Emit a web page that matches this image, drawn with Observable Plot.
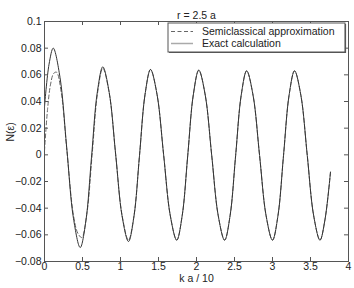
<!DOCTYPE html>
<html>
<head>
<meta charset="utf-8">
<script src="https://cdn.jsdelivr.net/npm/d3@7"></script>
<script src="https://cdn.jsdelivr.net/npm/@observablehq/plot@0.6"></script>
<style>
  html, body { margin: 0; padding: 0; background: #fff; }
  #chart svg { display: block; }
</style>
</head>
<body>
<div id="chart"></div>
<script>
const title = "r = 2.5 a";
const xLabel = "k a / 10";
const yLabel = "N(ε)";
const seriesNames = ["Semiclassical approximation", "Exact calculation"];
const xTicks = [0, 0.5, 1, 1.5, 2, 2.5, 3, 3.5, 4];
const yTicks = [-0.08, -0.06, -0.04, -0.02, 0, 0.02, 0.04, 0.06, 0.08, 0.1];

const exactX = [0, 0.06, 0.115, 0.204, 0.2925, 0.381, 0.47, 0.544, 0.6185, 0.693, 0.767, 0.8515, 0.936, 1.0205, 1.105, 1.1775, 1.25, 1.3225, 1.395, 1.481, 1.5675, 1.654, 1.74, 1.8125, 1.885, 1.9575, 2.03, 2.115, 2.2, 2.285, 2.37, 2.4425, 2.515, 2.5875, 2.66, 2.745, 2.83, 2.915, 3.0, 3.0725, 3.145, 3.2175, 3.29, 3.374, 3.4575, 3.541, 3.625, 3.69, 3.763];
const exactY = [0.036, 0.068, 0.080, 0.0581, 0.0053, -0.0476, -0.0695, -0.0497, -0.0018, 0.0462, 0.066, 0.0468, 0.0005, -0.0458, -0.065, -0.0461, -0.0005, 0.0451, 0.064, 0.0452, 0, -0.0452, -0.064, -0.0453, -0.0003, 0.0448, 0.0635, 0.0448, -0.0003, -0.0453, -0.064, -0.0454, -0.0005, 0.0444, 0.063, 0.0444, -0.0005, -0.0454, -0.064, -0.0454, -0.0005, 0.0444, 0.063, 0.0444, -0.0005, -0.0454, -0.064, -0.0488, -0.013];

const semiX = [0, 0.04, 0.08, 0.12, 0.158, 0.22, 0.295, 0.38, 0.44, 0.49, 0.559, 0.6285, 0.698, 0.767, 0.8515, 0.936, 1.0205, 1.105, 1.1775, 1.25, 1.3225, 1.395, 1.481, 1.5675, 1.654, 1.74, 1.8125, 1.885, 1.9575, 2.03, 2.115, 2.2, 2.285, 2.37, 2.4425, 2.515, 2.5875, 2.66, 2.745, 2.83, 2.915, 3.0, 3.0725, 3.145, 3.2175, 3.29, 3.374, 3.4575, 3.541, 3.625, 3.69, 3.763];
const semiY = [0.003, 0.034, 0.053, 0.061, 0.062, 0.047, 0.003, -0.045, -0.059, -0.062, -0.0434, 0.0015, 0.0464, 0.065, 0.0463, 0.0005, -0.0453, -0.064, -0.0456, -0.0005, 0.0451, 0.064, 0.0452, 0, -0.0452, -0.064, -0.0453, -0.0003, 0.0448, 0.0635, 0.0448, -0.0003, -0.0453, -0.064, -0.0454, -0.0005, 0.0444, 0.063, 0.0444, -0.0005, -0.0454, -0.064, -0.0454, -0.0005, 0.0444, 0.063, 0.0444, -0.0005, -0.0454, -0.064, -0.0488, -0.013];

const exact = exactX.map((x, i) => ({x, y: exactY[i]}));
const semi = semiX.map((x, i) => ({x, y: semiY[i]}));

const W = 354, H = 288;
const mL = 44, mR = 6, mT = 21, mB = 27;
const fw = W - mL - mR, fh = H - mT - mB;
const tl = 4;
const axisColor = "#555";
const fmt = d => d === 0 ? "0" : d3.format("~g")(d);

const chart = Plot.plot({
  width: W, height: H,
  marginLeft: mL, marginRight: mR, marginTop: mT, marginBottom: mB,
  style: {fontFamily: "'Liberation Sans', Arial, sans-serif", fontSize: "10.5px", background: "#fff", color: "#222"},
  x: {domain: [0, 4]},
  y: {domain: [-0.08, 0.1]},
  marks: [
    Plot.line(semi, {x: "x", y: "y", stroke: "#666", strokeWidth: 1, strokeDasharray: "4,2.5", curve: "catmull-rom"}),
    Plot.line(exact, {x: "x", y: "y", stroke: "#333", strokeWidth: 1, curve: "catmull-rom"}),
    Plot.frame({stroke: axisColor}),
    Plot.tickX(xTicks, {x: d => d, insetTop: fh - tl, stroke: axisColor}),
    Plot.tickX(xTicks, {x: d => d, insetBottom: fh - tl, stroke: axisColor}),
    Plot.tickY(yTicks, {y: d => d, insetRight: fw - tl, stroke: axisColor}),
    Plot.tickY(yTicks, {y: d => d, insetLeft: fw - tl, stroke: axisColor}),
    Plot.axisX(xTicks, {tickSize: 0, tickPadding: 1, tickFormat: fmt, label: null}),
    Plot.axisY(yTicks, {tickSize: 0, tickPadding: 3, tickFormat: fmt, label: null}),
    Plot.text([title], {frameAnchor: "top", dy: -10, fontSize: 10.5}),
    Plot.text([xLabel], {frameAnchor: "bottom", dy: 20, fontSize: 10.5}),
    Plot.text([yLabel], {frameAnchor: "left", dx: -34, rotate: -90, fontSize: 10.5})
  ]
});

document.getElementById("chart").appendChild(chart);

// legend
const svg = d3.select(chart);
const lg = svg.append("g")
  .attr("font-family", "'Liberation Sans', Arial, sans-serif")
  .attr("font-size", 10.5)
  .attr("text-anchor", "start");
const lx = 168, ly = 23, lw = 177, lh = 29;
lg.append("rect").attr("x", lx).attr("y", ly).attr("width", lw).attr("height", lh)
  .attr("fill", "#fff").attr("stroke", "#555");
lg.append("path").attr("d", `M${lx + 1},${ly + lh + 0.5}H${lx + lw + 0.5}V${ly + 1}`)
  .attr("fill", "none").attr("stroke", "#555").attr("stroke-width", 1.2);
const rows = [
  {name: seriesNames[0], stroke: "#666", dash: "4,2.5"},
  {name: seriesNames[1], stroke: "#aaa", dash: null}
];
rows.forEach((r, i) => {
  const cy = ly + 8.5 + i * 12;
  lg.append("line").attr("x1", lx + 3).attr("x2", lx + 25).attr("y1", cy).attr("y2", cy)
    .attr("stroke", r.stroke).attr("stroke-width", i === 1 ? 1.5 : 1).attr("stroke-dasharray", r.dash);
  lg.append("text").attr("x", lx + 34).attr("y", cy).attr("dy", "0.35em")
    .attr("text-anchor", "start").attr("fill", "#222").text(r.name);
});
</script>
</body>
</html>
